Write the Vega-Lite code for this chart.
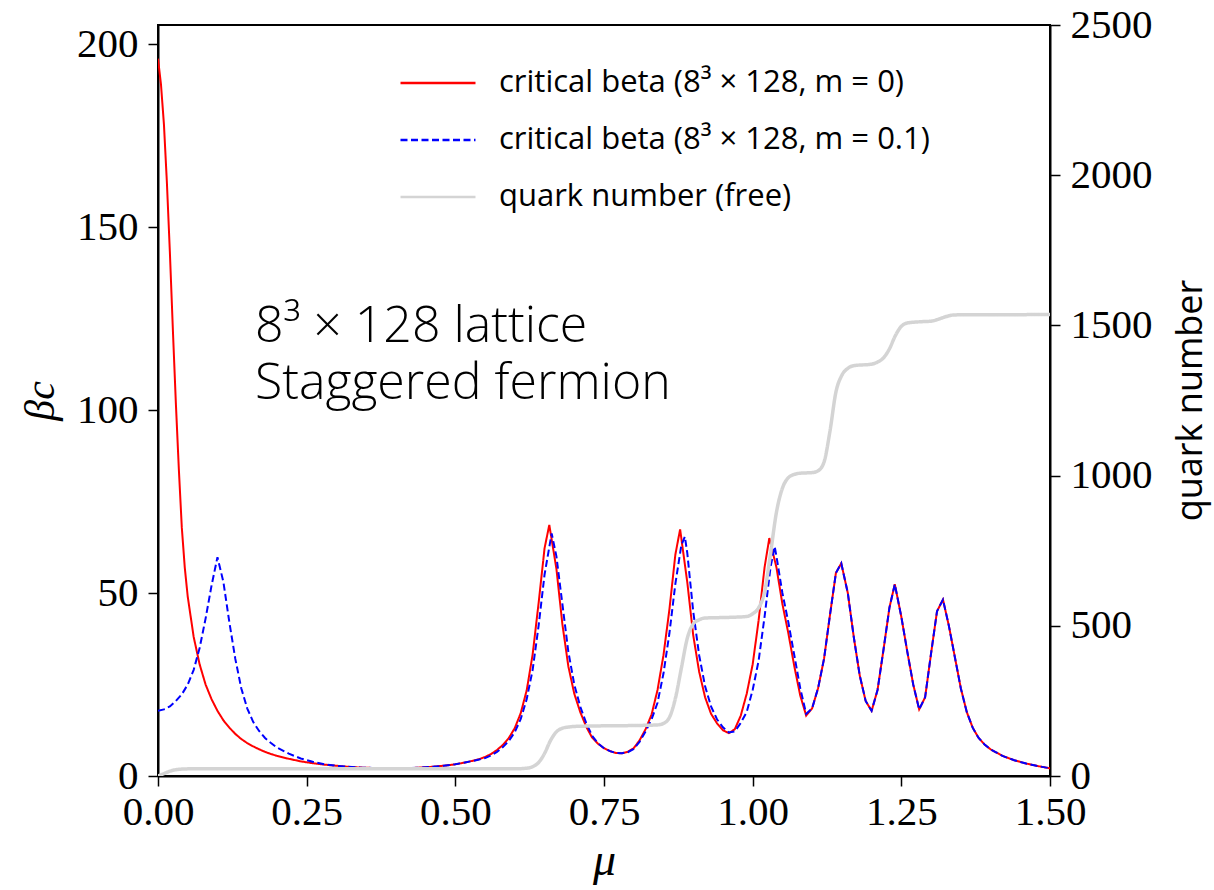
{
  "$schema": "https://vega.github.io/schema/vega-lite/v6.json",
  "width": 892,
  "height": 751,
  "autosize": {"type": "none"},
  "padding": {"left": 158, "top": 25, "right": 164, "bottom": 114},
  "background": "white",
  "config": {
    "view": {"stroke": "black", "strokeWidth": 2},
    "axis": {
      "grid": false,
      "domainColor": "black",
      "domainWidth": 2,
      "tickColor": "black",
      "tickWidth": 1.5,
      "tickSize": 10,
      "labelFont": "Liberation Serif",
      "labelFontSize": 41,
      "labelColor": "black",
      "titleColor": "black",
      "labelOverlap": false
    },
    "legend": {
      "orient": "none",
      "legendX": 241,
      "legendY": 19,
      "padding": 0,
      "symbolType": "stroke",
      "symbolSize": 5625,
      "symbolStrokeWidth": 2.5,
      "labelFont": "Open Sans",
      "labelFontSize": 31,
      "labelColor": "black",
      "labelLimit": 800,
      "labelOffset": 22,
      "rowPadding": 3
    }
  },
  "datasets": {
    "beta": [
      {"mu": 0, "beta": 196, "series": "critical beta (8³ × 128, m = 0)"},
      {"mu": 0.005, "beta": 189, "series": "critical beta (8³ × 128, m = 0)"},
      {"mu": 0.01, "beta": 178, "series": "critical beta (8³ × 128, m = 0)"},
      {"mu": 0.015, "beta": 162, "series": "critical beta (8³ × 128, m = 0)"},
      {"mu": 0.02, "beta": 143, "series": "critical beta (8³ × 128, m = 0)"},
      {"mu": 0.025, "beta": 122, "series": "critical beta (8³ × 128, m = 0)"},
      {"mu": 0.03, "beta": 102, "series": "critical beta (8³ × 128, m = 0)"},
      {"mu": 0.035, "beta": 84, "series": "critical beta (8³ × 128, m = 0)"},
      {"mu": 0.04, "beta": 68, "series": "critical beta (8³ × 128, m = 0)"},
      {"mu": 0.045, "beta": 57, "series": "critical beta (8³ × 128, m = 0)"},
      {"mu": 0.05, "beta": 49, "series": "critical beta (8³ × 128, m = 0)"},
      {"mu": 0.06, "beta": 38, "series": "critical beta (8³ × 128, m = 0)"},
      {"mu": 0.07, "beta": 30.5, "series": "critical beta (8³ × 128, m = 0)"},
      {"mu": 0.08, "beta": 25, "series": "critical beta (8³ × 128, m = 0)"},
      {"mu": 0.09, "beta": 21, "series": "critical beta (8³ × 128, m = 0)"},
      {"mu": 0.1, "beta": 17.8, "series": "critical beta (8³ × 128, m = 0)"},
      {"mu": 0.11, "beta": 15.2, "series": "critical beta (8³ × 128, m = 0)"},
      {"mu": 0.12, "beta": 13.2, "series": "critical beta (8³ × 128, m = 0)"},
      {"mu": 0.13, "beta": 11.5, "series": "critical beta (8³ × 128, m = 0)"},
      {"mu": 0.14, "beta": 10.1, "series": "critical beta (8³ × 128, m = 0)"},
      {"mu": 0.15, "beta": 9.0, "series": "critical beta (8³ × 128, m = 0)"},
      {"mu": 0.16, "beta": 8.1, "series": "critical beta (8³ × 128, m = 0)"},
      {"mu": 0.17, "beta": 7.3, "series": "critical beta (8³ × 128, m = 0)"},
      {"mu": 0.18, "beta": 6.6, "series": "critical beta (8³ × 128, m = 0)"},
      {"mu": 0.19, "beta": 6.0, "series": "critical beta (8³ × 128, m = 0)"},
      {"mu": 0.2, "beta": 5.5, "series": "critical beta (8³ × 128, m = 0)"},
      {"mu": 0.22, "beta": 4.7, "series": "critical beta (8³ × 128, m = 0)"},
      {"mu": 0.24, "beta": 4.0, "series": "critical beta (8³ × 128, m = 0)"},
      {"mu": 0.26, "beta": 3.5, "series": "critical beta (8³ × 128, m = 0)"},
      {"mu": 0.28, "beta": 3.1, "series": "critical beta (8³ × 128, m = 0)"},
      {"mu": 0.3, "beta": 2.8, "series": "critical beta (8³ × 128, m = 0)"},
      {"mu": 0.32, "beta": 2.5, "series": "critical beta (8³ × 128, m = 0)"},
      {"mu": 0.34, "beta": 2.3, "series": "critical beta (8³ × 128, m = 0)"},
      {"mu": 0.36, "beta": 2.2, "series": "critical beta (8³ × 128, m = 0)"},
      {"mu": 0.38, "beta": 2.1, "series": "critical beta (8³ × 128, m = 0)"},
      {"mu": 0.4, "beta": 2.1, "series": "critical beta (8³ × 128, m = 0)"},
      {"mu": 0.42, "beta": 2.1, "series": "critical beta (8³ × 128, m = 0)"},
      {"mu": 0.44, "beta": 2.3, "series": "critical beta (8³ × 128, m = 0)"},
      {"mu": 0.46, "beta": 2.5, "series": "critical beta (8³ × 128, m = 0)"},
      {"mu": 0.48, "beta": 2.8, "series": "critical beta (8³ × 128, m = 0)"},
      {"mu": 0.5, "beta": 3.2, "series": "critical beta (8³ × 128, m = 0)"},
      {"mu": 0.52, "beta": 3.8, "series": "critical beta (8³ × 128, m = 0)"},
      {"mu": 0.54, "beta": 4.6, "series": "critical beta (8³ × 128, m = 0)"},
      {"mu": 0.55, "beta": 5.2, "series": "critical beta (8³ × 128, m = 0)"},
      {"mu": 0.56, "beta": 6.0, "series": "critical beta (8³ × 128, m = 0)"},
      {"mu": 0.57, "beta": 7.1, "series": "critical beta (8³ × 128, m = 0)"},
      {"mu": 0.58, "beta": 8.5, "series": "critical beta (8³ × 128, m = 0)"},
      {"mu": 0.59, "beta": 10.4, "series": "critical beta (8³ × 128, m = 0)"},
      {"mu": 0.6, "beta": 13.1, "series": "critical beta (8³ × 128, m = 0)"},
      {"mu": 0.61, "beta": 17.2, "series": "critical beta (8³ × 128, m = 0)"},
      {"mu": 0.62, "beta": 23.4, "series": "critical beta (8³ × 128, m = 0)"},
      {"mu": 0.63, "beta": 33.2, "series": "critical beta (8³ × 128, m = 0)"},
      {"mu": 0.64, "beta": 47.2, "series": "critical beta (8³ × 128, m = 0)"},
      {"mu": 0.65, "beta": 62.2, "series": "critical beta (8³ × 128, m = 0)"},
      {"mu": 0.658, "beta": 68.6, "series": "critical beta (8³ × 128, m = 0)"},
      {"mu": 0.67, "beta": 56.6, "series": "critical beta (8³ × 128, m = 0)"},
      {"mu": 0.68, "beta": 41.5, "series": "critical beta (8³ × 128, m = 0)"},
      {"mu": 0.69, "beta": 30, "series": "critical beta (8³ × 128, m = 0)"},
      {"mu": 0.7, "beta": 22.5, "series": "critical beta (8³ × 128, m = 0)"},
      {"mu": 0.71, "beta": 17.5, "series": "critical beta (8³ × 128, m = 0)"},
      {"mu": 0.72, "beta": 13.5, "series": "critical beta (8³ × 128, m = 0)"},
      {"mu": 0.73, "beta": 10.5, "series": "critical beta (8³ × 128, m = 0)"},
      {"mu": 0.74, "beta": 8.8, "series": "critical beta (8³ × 128, m = 0)"},
      {"mu": 0.75, "beta": 7.6, "series": "critical beta (8³ × 128, m = 0)"},
      {"mu": 0.76, "beta": 6.8, "series": "critical beta (8³ × 128, m = 0)"},
      {"mu": 0.77, "beta": 6.3, "series": "critical beta (8³ × 128, m = 0)"},
      {"mu": 0.78, "beta": 6.2, "series": "critical beta (8³ × 128, m = 0)"},
      {"mu": 0.79, "beta": 6.6, "series": "critical beta (8³ × 128, m = 0)"},
      {"mu": 0.8, "beta": 7.6, "series": "critical beta (8³ × 128, m = 0)"},
      {"mu": 0.81, "beta": 9.8, "series": "critical beta (8³ × 128, m = 0)"},
      {"mu": 0.82, "beta": 12.8, "series": "critical beta (8³ × 128, m = 0)"},
      {"mu": 0.83, "beta": 16.8, "series": "critical beta (8³ × 128, m = 0)"},
      {"mu": 0.84, "beta": 23.5, "series": "critical beta (8³ × 128, m = 0)"},
      {"mu": 0.85, "beta": 33, "series": "critical beta (8³ × 128, m = 0)"},
      {"mu": 0.86, "beta": 45.5, "series": "critical beta (8³ × 128, m = 0)"},
      {"mu": 0.87, "beta": 60.5, "series": "critical beta (8³ × 128, m = 0)"},
      {"mu": 0.878, "beta": 67.4, "series": "critical beta (8³ × 128, m = 0)"},
      {"mu": 0.89, "beta": 53, "series": "critical beta (8³ × 128, m = 0)"},
      {"mu": 0.9, "beta": 38.5, "series": "critical beta (8³ × 128, m = 0)"},
      {"mu": 0.91, "beta": 28.5, "series": "critical beta (8³ × 128, m = 0)"},
      {"mu": 0.92, "beta": 21.5, "series": "critical beta (8³ × 128, m = 0)"},
      {"mu": 0.93, "beta": 17, "series": "critical beta (8³ × 128, m = 0)"},
      {"mu": 0.94, "beta": 14.4, "series": "critical beta (8³ × 128, m = 0)"},
      {"mu": 0.95, "beta": 12.5, "series": "critical beta (8³ × 128, m = 0)"},
      {"mu": 0.96, "beta": 11.7, "series": "critical beta (8³ × 128, m = 0)"},
      {"mu": 0.97, "beta": 12.8, "series": "critical beta (8³ × 128, m = 0)"},
      {"mu": 0.98, "beta": 16.5, "series": "critical beta (8³ × 128, m = 0)"},
      {"mu": 0.99, "beta": 22.5, "series": "critical beta (8³ × 128, m = 0)"},
      {"mu": 1.0, "beta": 30.5, "series": "critical beta (8³ × 128, m = 0)"},
      {"mu": 1.01, "beta": 42.5, "series": "critical beta (8³ × 128, m = 0)"},
      {"mu": 1.02, "beta": 57, "series": "critical beta (8³ × 128, m = 0)"},
      {"mu": 1.028, "beta": 65, "series": "critical beta (8³ × 128, m = 0)"},
      {"mu": 1.04, "beta": 57, "series": "critical beta (8³ × 128, m = 0)"},
      {"mu": 1.05, "beta": 47, "series": "critical beta (8³ × 128, m = 0)"},
      {"mu": 1.06, "beta": 39, "series": "critical beta (8³ × 128, m = 0)"},
      {"mu": 1.07, "beta": 30, "series": "critical beta (8³ × 128, m = 0)"},
      {"mu": 1.08, "beta": 22, "series": "critical beta (8³ × 128, m = 0)"},
      {"mu": 1.09, "beta": 16.5, "series": "critical beta (8³ × 128, m = 0)"},
      {"mu": 1.1, "beta": 18.5, "series": "critical beta (8³ × 128, m = 0)"},
      {"mu": 1.11, "beta": 24, "series": "critical beta (8³ × 128, m = 0)"},
      {"mu": 1.12, "beta": 32, "series": "critical beta (8³ × 128, m = 0)"},
      {"mu": 1.13, "beta": 44, "series": "critical beta (8³ × 128, m = 0)"},
      {"mu": 1.14, "beta": 55.5, "series": "critical beta (8³ × 128, m = 0)"},
      {"mu": 1.149, "beta": 58.1, "series": "critical beta (8³ × 128, m = 0)"},
      {"mu": 1.16, "beta": 50, "series": "critical beta (8³ × 128, m = 0)"},
      {"mu": 1.17, "beta": 38, "series": "critical beta (8³ × 128, m = 0)"},
      {"mu": 1.18, "beta": 27.5, "series": "critical beta (8³ × 128, m = 0)"},
      {"mu": 1.19, "beta": 20.5, "series": "critical beta (8³ × 128, m = 0)"},
      {"mu": 1.2, "beta": 17.8, "series": "critical beta (8³ × 128, m = 0)"},
      {"mu": 1.21, "beta": 23.5, "series": "critical beta (8³ × 128, m = 0)"},
      {"mu": 1.22, "beta": 34.5, "series": "critical beta (8³ × 128, m = 0)"},
      {"mu": 1.23, "beta": 46, "series": "critical beta (8³ × 128, m = 0)"},
      {"mu": 1.239, "beta": 52.4, "series": "critical beta (8³ × 128, m = 0)"},
      {"mu": 1.25, "beta": 43.5, "series": "critical beta (8³ × 128, m = 0)"},
      {"mu": 1.26, "beta": 34, "series": "critical beta (8³ × 128, m = 0)"},
      {"mu": 1.27, "beta": 25, "series": "critical beta (8³ × 128, m = 0)"},
      {"mu": 1.28, "beta": 18.2, "series": "critical beta (8³ × 128, m = 0)"},
      {"mu": 1.29, "beta": 21.5, "series": "critical beta (8³ × 128, m = 0)"},
      {"mu": 1.3, "beta": 33.5, "series": "critical beta (8³ × 128, m = 0)"},
      {"mu": 1.31, "beta": 45, "series": "critical beta (8³ × 128, m = 0)"},
      {"mu": 1.32, "beta": 48.2, "series": "critical beta (8³ × 128, m = 0)"},
      {"mu": 1.33, "beta": 41, "series": "critical beta (8³ × 128, m = 0)"},
      {"mu": 1.34, "beta": 32.5, "series": "critical beta (8³ × 128, m = 0)"},
      {"mu": 1.35, "beta": 24, "series": "critical beta (8³ × 128, m = 0)"},
      {"mu": 1.36, "beta": 17.5, "series": "critical beta (8³ × 128, m = 0)"},
      {"mu": 1.37, "beta": 13.2, "series": "critical beta (8³ × 128, m = 0)"},
      {"mu": 1.38, "beta": 10.4, "series": "critical beta (8³ × 128, m = 0)"},
      {"mu": 1.39, "beta": 8.6, "series": "critical beta (8³ × 128, m = 0)"},
      {"mu": 1.4, "beta": 7.3, "series": "critical beta (8³ × 128, m = 0)"},
      {"mu": 1.42, "beta": 5.5, "series": "critical beta (8³ × 128, m = 0)"},
      {"mu": 1.44, "beta": 4.3, "series": "critical beta (8³ × 128, m = 0)"},
      {"mu": 1.46, "beta": 3.4, "series": "critical beta (8³ × 128, m = 0)"},
      {"mu": 1.48, "beta": 2.7, "series": "critical beta (8³ × 128, m = 0)"},
      {"mu": 1.5, "beta": 2.1, "series": "critical beta (8³ × 128, m = 0)"},

      {"mu": 0, "beta": 17.8, "series": "critical beta (8³ × 128, m = 0.1)"},
      {"mu": 0.01, "beta": 18.2, "series": "critical beta (8³ × 128, m = 0.1)"},
      {"mu": 0.02, "beta": 19.0, "series": "critical beta (8³ × 128, m = 0.1)"},
      {"mu": 0.03, "beta": 20.5, "series": "critical beta (8³ × 128, m = 0.1)"},
      {"mu": 0.04, "beta": 22.3, "series": "critical beta (8³ × 128, m = 0.1)"},
      {"mu": 0.05, "beta": 25, "series": "critical beta (8³ × 128, m = 0.1)"},
      {"mu": 0.06, "beta": 29, "series": "critical beta (8³ × 128, m = 0.1)"},
      {"mu": 0.07, "beta": 35, "series": "critical beta (8³ × 128, m = 0.1)"},
      {"mu": 0.08, "beta": 43, "series": "critical beta (8³ × 128, m = 0.1)"},
      {"mu": 0.09, "beta": 52, "series": "critical beta (8³ × 128, m = 0.1)"},
      {"mu": 0.1, "beta": 59.8, "series": "critical beta (8³ × 128, m = 0.1)"},
      {"mu": 0.11, "beta": 53, "series": "critical beta (8³ × 128, m = 0.1)"},
      {"mu": 0.12, "beta": 42, "series": "critical beta (8³ × 128, m = 0.1)"},
      {"mu": 0.13, "beta": 32, "series": "critical beta (8³ × 128, m = 0.1)"},
      {"mu": 0.14, "beta": 24, "series": "critical beta (8³ × 128, m = 0.1)"},
      {"mu": 0.15, "beta": 18.5, "series": "critical beta (8³ × 128, m = 0.1)"},
      {"mu": 0.16, "beta": 14.8, "series": "critical beta (8³ × 128, m = 0.1)"},
      {"mu": 0.17, "beta": 12.3, "series": "critical beta (8³ × 128, m = 0.1)"},
      {"mu": 0.18, "beta": 10.4, "series": "critical beta (8³ × 128, m = 0.1)"},
      {"mu": 0.19, "beta": 9.0, "series": "critical beta (8³ × 128, m = 0.1)"},
      {"mu": 0.2, "beta": 7.8, "series": "critical beta (8³ × 128, m = 0.1)"},
      {"mu": 0.22, "beta": 6.1, "series": "critical beta (8³ × 128, m = 0.1)"},
      {"mu": 0.24, "beta": 4.8, "series": "critical beta (8³ × 128, m = 0.1)"},
      {"mu": 0.26, "beta": 3.9, "series": "critical beta (8³ × 128, m = 0.1)"},
      {"mu": 0.28, "beta": 3.2, "series": "critical beta (8³ × 128, m = 0.1)"},
      {"mu": 0.3, "beta": 2.8, "series": "critical beta (8³ × 128, m = 0.1)"},
      {"mu": 0.32, "beta": 2.5, "series": "critical beta (8³ × 128, m = 0.1)"},
      {"mu": 0.34, "beta": 2.3, "series": "critical beta (8³ × 128, m = 0.1)"},
      {"mu": 0.36, "beta": 2.2, "series": "critical beta (8³ × 128, m = 0.1)"},
      {"mu": 0.38, "beta": 2.1, "series": "critical beta (8³ × 128, m = 0.1)"},
      {"mu": 0.4, "beta": 2.1, "series": "critical beta (8³ × 128, m = 0.1)"},
      {"mu": 0.42, "beta": 2.1, "series": "critical beta (8³ × 128, m = 0.1)"},
      {"mu": 0.44, "beta": 2.3, "series": "critical beta (8³ × 128, m = 0.1)"},
      {"mu": 0.46, "beta": 2.5, "series": "critical beta (8³ × 128, m = 0.1)"},
      {"mu": 0.48, "beta": 2.8, "series": "critical beta (8³ × 128, m = 0.1)"},
      {"mu": 0.5, "beta": 3.2, "series": "critical beta (8³ × 128, m = 0.1)"},
      {"mu": 0.52, "beta": 3.8, "series": "critical beta (8³ × 128, m = 0.1)"},
      {"mu": 0.54, "beta": 4.5, "series": "critical beta (8³ × 128, m = 0.1)"},
      {"mu": 0.55, "beta": 4.9, "series": "critical beta (8³ × 128, m = 0.1)"},
      {"mu": 0.56, "beta": 5.6, "series": "critical beta (8³ × 128, m = 0.1)"},
      {"mu": 0.57, "beta": 6.6, "series": "critical beta (8³ × 128, m = 0.1)"},
      {"mu": 0.58, "beta": 7.9, "series": "critical beta (8³ × 128, m = 0.1)"},
      {"mu": 0.59, "beta": 9.6, "series": "critical beta (8³ × 128, m = 0.1)"},
      {"mu": 0.6, "beta": 12.0, "series": "critical beta (8³ × 128, m = 0.1)"},
      {"mu": 0.61, "beta": 15.6, "series": "critical beta (8³ × 128, m = 0.1)"},
      {"mu": 0.62, "beta": 21, "series": "critical beta (8³ × 128, m = 0.1)"},
      {"mu": 0.63, "beta": 29, "series": "critical beta (8³ × 128, m = 0.1)"},
      {"mu": 0.64, "beta": 41, "series": "critical beta (8³ × 128, m = 0.1)"},
      {"mu": 0.65, "beta": 55, "series": "critical beta (8³ × 128, m = 0.1)"},
      {"mu": 0.662, "beta": 66.3, "series": "critical beta (8³ × 128, m = 0.1)"},
      {"mu": 0.67, "beta": 60, "series": "critical beta (8³ × 128, m = 0.1)"},
      {"mu": 0.68, "beta": 47, "series": "critical beta (8³ × 128, m = 0.1)"},
      {"mu": 0.69, "beta": 34, "series": "critical beta (8³ × 128, m = 0.1)"},
      {"mu": 0.7, "beta": 25, "series": "critical beta (8³ × 128, m = 0.1)"},
      {"mu": 0.71, "beta": 19, "series": "critical beta (8³ × 128, m = 0.1)"},
      {"mu": 0.72, "beta": 14.5, "series": "critical beta (8³ × 128, m = 0.1)"},
      {"mu": 0.73, "beta": 11, "series": "critical beta (8³ × 128, m = 0.1)"},
      {"mu": 0.74, "beta": 8.9, "series": "critical beta (8³ × 128, m = 0.1)"},
      {"mu": 0.75, "beta": 7.6, "series": "critical beta (8³ × 128, m = 0.1)"},
      {"mu": 0.76, "beta": 6.8, "series": "critical beta (8³ × 128, m = 0.1)"},
      {"mu": 0.77, "beta": 6.3, "series": "critical beta (8³ × 128, m = 0.1)"},
      {"mu": 0.78, "beta": 6.2, "series": "critical beta (8³ × 128, m = 0.1)"},
      {"mu": 0.79, "beta": 6.5, "series": "critical beta (8³ × 128, m = 0.1)"},
      {"mu": 0.8, "beta": 7.4, "series": "critical beta (8³ × 128, m = 0.1)"},
      {"mu": 0.81, "beta": 9.4, "series": "critical beta (8³ × 128, m = 0.1)"},
      {"mu": 0.82, "beta": 12.2, "series": "critical beta (8³ × 128, m = 0.1)"},
      {"mu": 0.83, "beta": 15.5, "series": "critical beta (8³ × 128, m = 0.1)"},
      {"mu": 0.84, "beta": 20, "series": "critical beta (8³ × 128, m = 0.1)"},
      {"mu": 0.85, "beta": 28, "series": "critical beta (8³ × 128, m = 0.1)"},
      {"mu": 0.86, "beta": 39, "series": "critical beta (8³ × 128, m = 0.1)"},
      {"mu": 0.87, "beta": 52.5, "series": "critical beta (8³ × 128, m = 0.1)"},
      {"mu": 0.88, "beta": 63, "series": "critical beta (8³ × 128, m = 0.1)"},
      {"mu": 0.886, "beta": 65.4, "series": "critical beta (8³ × 128, m = 0.1)"},
      {"mu": 0.89, "beta": 61, "series": "critical beta (8³ × 128, m = 0.1)"},
      {"mu": 0.9, "beta": 45, "series": "critical beta (8³ × 128, m = 0.1)"},
      {"mu": 0.91, "beta": 33, "series": "critical beta (8³ × 128, m = 0.1)"},
      {"mu": 0.92, "beta": 24.5, "series": "critical beta (8³ × 128, m = 0.1)"},
      {"mu": 0.93, "beta": 19, "series": "critical beta (8³ × 128, m = 0.1)"},
      {"mu": 0.94, "beta": 15.5, "series": "critical beta (8³ × 128, m = 0.1)"},
      {"mu": 0.95, "beta": 13.3, "series": "critical beta (8³ × 128, m = 0.1)"},
      {"mu": 0.96, "beta": 11.9, "series": "critical beta (8³ × 128, m = 0.1)"},
      {"mu": 0.97, "beta": 12.2, "series": "critical beta (8³ × 128, m = 0.1)"},
      {"mu": 0.98, "beta": 14.5, "series": "critical beta (8³ × 128, m = 0.1)"},
      {"mu": 0.99, "beta": 17.5, "series": "critical beta (8³ × 128, m = 0.1)"},
      {"mu": 1.0, "beta": 23.5, "series": "critical beta (8³ × 128, m = 0.1)"},
      {"mu": 1.01, "beta": 31.5, "series": "critical beta (8³ × 128, m = 0.1)"},
      {"mu": 1.02, "beta": 43.5, "series": "critical beta (8³ × 128, m = 0.1)"},
      {"mu": 1.03, "beta": 57, "series": "critical beta (8³ × 128, m = 0.1)"},
      {"mu": 1.037, "beta": 62.7, "series": "critical beta (8³ × 128, m = 0.1)"},
      {"mu": 1.04, "beta": 60, "series": "critical beta (8³ × 128, m = 0.1)"},
      {"mu": 1.05, "beta": 50, "series": "critical beta (8³ × 128, m = 0.1)"},
      {"mu": 1.06, "beta": 42, "series": "critical beta (8³ × 128, m = 0.1)"},
      {"mu": 1.07, "beta": 33, "series": "critical beta (8³ × 128, m = 0.1)"},
      {"mu": 1.08, "beta": 24, "series": "critical beta (8³ × 128, m = 0.1)"},
      {"mu": 1.09, "beta": 17, "series": "critical beta (8³ × 128, m = 0.1)"},
      {"mu": 1.1, "beta": 18.5, "series": "critical beta (8³ × 128, m = 0.1)"},
      {"mu": 1.11, "beta": 24, "series": "critical beta (8³ × 128, m = 0.1)"},
      {"mu": 1.12, "beta": 32, "series": "critical beta (8³ × 128, m = 0.1)"},
      {"mu": 1.13, "beta": 44, "series": "critical beta (8³ × 128, m = 0.1)"},
      {"mu": 1.14, "beta": 55.5, "series": "critical beta (8³ × 128, m = 0.1)"},
      {"mu": 1.149, "beta": 58.1, "series": "critical beta (8³ × 128, m = 0.1)"},
      {"mu": 1.16, "beta": 50, "series": "critical beta (8³ × 128, m = 0.1)"},
      {"mu": 1.17, "beta": 38, "series": "critical beta (8³ × 128, m = 0.1)"},
      {"mu": 1.18, "beta": 27.5, "series": "critical beta (8³ × 128, m = 0.1)"},
      {"mu": 1.19, "beta": 20.5, "series": "critical beta (8³ × 128, m = 0.1)"},
      {"mu": 1.2, "beta": 17.8, "series": "critical beta (8³ × 128, m = 0.1)"},
      {"mu": 1.21, "beta": 23.5, "series": "critical beta (8³ × 128, m = 0.1)"},
      {"mu": 1.22, "beta": 34.5, "series": "critical beta (8³ × 128, m = 0.1)"},
      {"mu": 1.23, "beta": 46, "series": "critical beta (8³ × 128, m = 0.1)"},
      {"mu": 1.239, "beta": 52.4, "series": "critical beta (8³ × 128, m = 0.1)"},
      {"mu": 1.25, "beta": 43.5, "series": "critical beta (8³ × 128, m = 0.1)"},
      {"mu": 1.26, "beta": 34, "series": "critical beta (8³ × 128, m = 0.1)"},
      {"mu": 1.27, "beta": 25, "series": "critical beta (8³ × 128, m = 0.1)"},
      {"mu": 1.28, "beta": 18.2, "series": "critical beta (8³ × 128, m = 0.1)"},
      {"mu": 1.29, "beta": 21.5, "series": "critical beta (8³ × 128, m = 0.1)"},
      {"mu": 1.3, "beta": 33.5, "series": "critical beta (8³ × 128, m = 0.1)"},
      {"mu": 1.31, "beta": 45, "series": "critical beta (8³ × 128, m = 0.1)"},
      {"mu": 1.32, "beta": 48.2, "series": "critical beta (8³ × 128, m = 0.1)"},
      {"mu": 1.33, "beta": 41, "series": "critical beta (8³ × 128, m = 0.1)"},
      {"mu": 1.34, "beta": 32.5, "series": "critical beta (8³ × 128, m = 0.1)"},
      {"mu": 1.35, "beta": 24, "series": "critical beta (8³ × 128, m = 0.1)"},
      {"mu": 1.36, "beta": 17.5, "series": "critical beta (8³ × 128, m = 0.1)"},
      {"mu": 1.37, "beta": 13.2, "series": "critical beta (8³ × 128, m = 0.1)"},
      {"mu": 1.38, "beta": 10.4, "series": "critical beta (8³ × 128, m = 0.1)"},
      {"mu": 1.39, "beta": 8.6, "series": "critical beta (8³ × 128, m = 0.1)"},
      {"mu": 1.4, "beta": 7.3, "series": "critical beta (8³ × 128, m = 0.1)"},
      {"mu": 1.42, "beta": 5.5, "series": "critical beta (8³ × 128, m = 0.1)"},
      {"mu": 1.44, "beta": 4.3, "series": "critical beta (8³ × 128, m = 0.1)"},
      {"mu": 1.46, "beta": 3.4, "series": "critical beta (8³ × 128, m = 0.1)"},
      {"mu": 1.48, "beta": 2.7, "series": "critical beta (8³ × 128, m = 0.1)"},
      {"mu": 1.5, "beta": 2.1, "series": "critical beta (8³ × 128, m = 0.1)"}
    ],
    "quark": [
      {"mu": 0, "q": 0, "series": "quark number (free)"},
      {"mu": 0.01, "q": 8, "series": "quark number (free)"},
      {"mu": 0.02, "q": 16, "series": "quark number (free)"},
      {"mu": 0.03, "q": 21, "series": "quark number (free)"},
      {"mu": 0.04, "q": 23, "series": "quark number (free)"},
      {"mu": 0.06, "q": 24, "series": "quark number (free)"},
      {"mu": 0.6, "q": 24, "series": "quark number (free)"},
      {"mu": 0.62, "q": 26, "series": "quark number (free)"},
      {"mu": 0.63, "q": 31, "series": "quark number (free)"},
      {"mu": 0.64, "q": 45, "series": "quark number (free)"},
      {"mu": 0.65, "q": 75, "series": "quark number (free)"},
      {"mu": 0.66, "q": 118, "series": "quark number (free)"},
      {"mu": 0.67, "q": 147, "series": "quark number (free)"},
      {"mu": 0.68, "q": 159, "series": "quark number (free)"},
      {"mu": 0.69, "q": 163, "series": "quark number (free)"},
      {"mu": 0.7, "q": 165, "series": "quark number (free)"},
      {"mu": 0.75, "q": 167, "series": "quark number (free)"},
      {"mu": 0.8, "q": 168, "series": "quark number (free)"},
      {"mu": 0.84, "q": 170, "series": "quark number (free)"},
      {"mu": 0.85, "q": 175, "series": "quark number (free)"},
      {"mu": 0.86, "q": 195, "series": "quark number (free)"},
      {"mu": 0.87, "q": 258, "series": "quark number (free)"},
      {"mu": 0.88, "q": 358, "series": "quark number (free)"},
      {"mu": 0.89, "q": 458, "series": "quark number (free)"},
      {"mu": 0.9, "q": 506, "series": "quark number (free)"},
      {"mu": 0.91, "q": 520, "series": "quark number (free)"},
      {"mu": 0.92, "q": 526, "series": "quark number (free)"},
      {"mu": 0.96, "q": 528, "series": "quark number (free)"},
      {"mu": 0.99, "q": 531, "series": "quark number (free)"},
      {"mu": 1.0, "q": 540, "series": "quark number (free)"},
      {"mu": 1.01, "q": 560, "series": "quark number (free)"},
      {"mu": 1.02, "q": 612, "series": "quark number (free)"},
      {"mu": 1.03, "q": 740, "series": "quark number (free)"},
      {"mu": 1.04, "q": 878, "series": "quark number (free)"},
      {"mu": 1.05, "q": 958, "series": "quark number (free)"},
      {"mu": 1.06, "q": 993, "series": "quark number (free)"},
      {"mu": 1.07, "q": 1004, "series": "quark number (free)"},
      {"mu": 1.08, "q": 1008, "series": "quark number (free)"},
      {"mu": 1.1, "q": 1010, "series": "quark number (free)"},
      {"mu": 1.11, "q": 1016, "series": "quark number (free)"},
      {"mu": 1.12, "q": 1045, "series": "quark number (free)"},
      {"mu": 1.13, "q": 1148, "series": "quark number (free)"},
      {"mu": 1.14, "q": 1278, "series": "quark number (free)"},
      {"mu": 1.15, "q": 1334, "series": "quark number (free)"},
      {"mu": 1.16, "q": 1357, "series": "quark number (free)"},
      {"mu": 1.17, "q": 1366, "series": "quark number (free)"},
      {"mu": 1.2, "q": 1371, "series": "quark number (free)"},
      {"mu": 1.21, "q": 1378, "series": "quark number (free)"},
      {"mu": 1.22, "q": 1392, "series": "quark number (free)"},
      {"mu": 1.23, "q": 1422, "series": "quark number (free)"},
      {"mu": 1.24, "q": 1466, "series": "quark number (free)"},
      {"mu": 1.25, "q": 1497, "series": "quark number (free)"},
      {"mu": 1.26, "q": 1508, "series": "quark number (free)"},
      {"mu": 1.28, "q": 1512, "series": "quark number (free)"},
      {"mu": 1.3, "q": 1514, "series": "quark number (free)"},
      {"mu": 1.31, "q": 1519, "series": "quark number (free)"},
      {"mu": 1.32, "q": 1526, "series": "quark number (free)"},
      {"mu": 1.33, "q": 1532, "series": "quark number (free)"},
      {"mu": 1.34, "q": 1535, "series": "quark number (free)"},
      {"mu": 1.5, "q": 1536, "series": "quark number (free)"}
    ],
    "note": [
      {"mu": 0.163, "beta": 118.6, "label": "8³ × 128 lattice\nStaggered fermion"}
    ]
  },
  "layer": [
    {
      "layer": [
        {
          "data": {"name": "beta"},
          "mark": {"type": "line", "strokeWidth": 2, "clip": true},
          "encoding": {
            "x": {
              "field": "mu", "type": "quantitative",
              "scale": {"domain": [0, 1.5], "nice": false},
              "axis": {
                "values": [0, 0.25, 0.5, 0.75, 1.0, 1.25, 1.5],
                "format": ".2f",
                "labelFlush": false,
                "labelPadding": 6,
                "title": "μ",
                "titleFont": "Liberation Serif",
                "titleFontStyle": "italic",
                "titleFontWeight": "normal",
                "titleFontSize": 46,
                "titlePadding": 6
              }
            },
            "y": {
              "field": "beta", "type": "quantitative",
              "scale": {"domain": [0, 205.2], "nice": false},
              "axis": {
                "values": [0, 50, 100, 150, 200],
                "labelPadding": 10,
                "title": "βc",
                "titleFont": "Liberation Serif",
                "titleFontStyle": "italic",
                "titleFontWeight": "normal",
                "titleFontSize": 42,
                "titlePadding": 14
              }
            },
            "color": {
              "field": "series", "type": "nominal",
              "scale": {
                "domain": ["critical beta (8³ × 128, m = 0)", "critical beta (8³ × 128, m = 0.1)", "quark number (free)"],
                "range": ["#ff0000", "#0000ff", "#d4d4d4"]
              },
              "legend": {"title": null}
            },
            "strokeDash": {
              "field": "series", "type": "nominal",
              "scale": {
                "domain": ["critical beta (8³ × 128, m = 0)", "critical beta (8³ × 128, m = 0.1)", "quark number (free)"],
                "range": [[1, 0], [7, 3.5], [1, 0]]
              },
              "legend": {"title": null}
            }
          }
        },
        {
          "data": {"name": "note"},
          "mark": {
            "type": "text",
            "align": "left",
            "baseline": "alphabetic",
            "font": "Open Sans",
            "fontWeight": 300,
            "fontSize": 50,
            "lineHeight": 57,
            "lineBreak": "\n",
            "color": "black"
          },
          "encoding": {
            "x": {"field": "mu", "type": "quantitative"},
            "y": {"field": "beta", "type": "quantitative"},
            "text": {"field": "label"}
          }
        }
      ]
    },
    {
      "data": {"name": "quark"},
      "mark": {"type": "line", "strokeWidth": 3.5, "interpolate": "monotone", "clip": true},
      "encoding": {
        "x": {"field": "mu", "type": "quantitative"},
        "y": {
          "field": "q", "type": "quantitative",
          "scale": {"domain": [0, 2500], "nice": false},
          "axis": {
            "orient": "right",
            "values": [0, 500, 1000, 1500, 2000, 2500],
            "format": "d",
            "labelPadding": 10,
            "title": "quark number",
            "titleFont": "Open Sans",
            "titleFontWeight": "normal",
            "titleFontSize": 36,
            "titleAngle": 270,
            "titleX": 140,
            "titleY": 375,
            "titleAlign": "center",
            "titleBaseline": "middle"
          }
        },
        "color": {
          "field": "series", "type": "nominal",
          "scale": {
            "domain": ["critical beta (8³ × 128, m = 0)", "critical beta (8³ × 128, m = 0.1)", "quark number (free)"],
            "range": ["#ff0000", "#0000ff", "#d4d4d4"]
          },
          "legend": {"title": null}
        },
        "strokeDash": {
          "field": "series", "type": "nominal",
          "scale": {
            "domain": ["critical beta (8³ × 128, m = 0)", "critical beta (8³ × 128, m = 0.1)", "quark number (free)"],
            "range": [[1, 0], [7, 3.5], [1, 0]]
          },
          "legend": {"title": null}
        }
      }
    }
  ],
  "resolve": {"scale": {"y": "independent"}}
}
